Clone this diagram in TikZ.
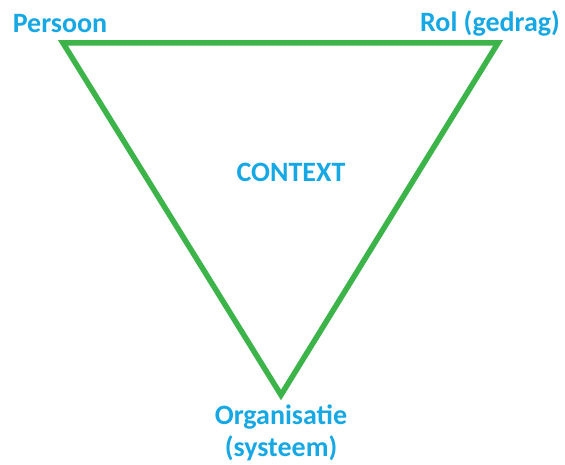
\documentclass[tikz,border=0pt]{standalone}
\usepackage{fontspec}
\setmainfont{Carlito}
\usepackage{tikz}

\definecolor{trigreen}{RGB}{60,180,74}
\definecolor{txtblue}{RGB}{22,168,228}

\begin{document}
\begin{tikzpicture}[x=1pt,y=1pt,
  lbl/.style={text=txtblue, font=\fontsize{28}{32}\selectfont\bfseries, inner sep=0pt, anchor=base, align=center}]

\useasboundingbox (0,0) rectangle (565,465);

% Corners of the triangle
\coordinate (persoon) at (63,422);
\coordinate (rol) at (498,422);
\coordinate (organisatie) at (281,70);

% Draw the triangle
\draw[trigreen, line width=5.5pt, line join=miter] (persoon) -- (rol) -- (organisatie) -- cycle;

% Labels
\node[lbl] (lpersoon) at (60,432) {Persoon}; % top left
\node[lbl] (lrol) at (490,433) {Rol (gedrag)}; % top right
\node[lbl] (lcontext) at (291,283) {CONTEXT}; % middle
\node[lbl] (lorganisatie) at (281,8) {Organisatie\\(systeem)}; % bottom

\end{tikzpicture}
\end{document}
